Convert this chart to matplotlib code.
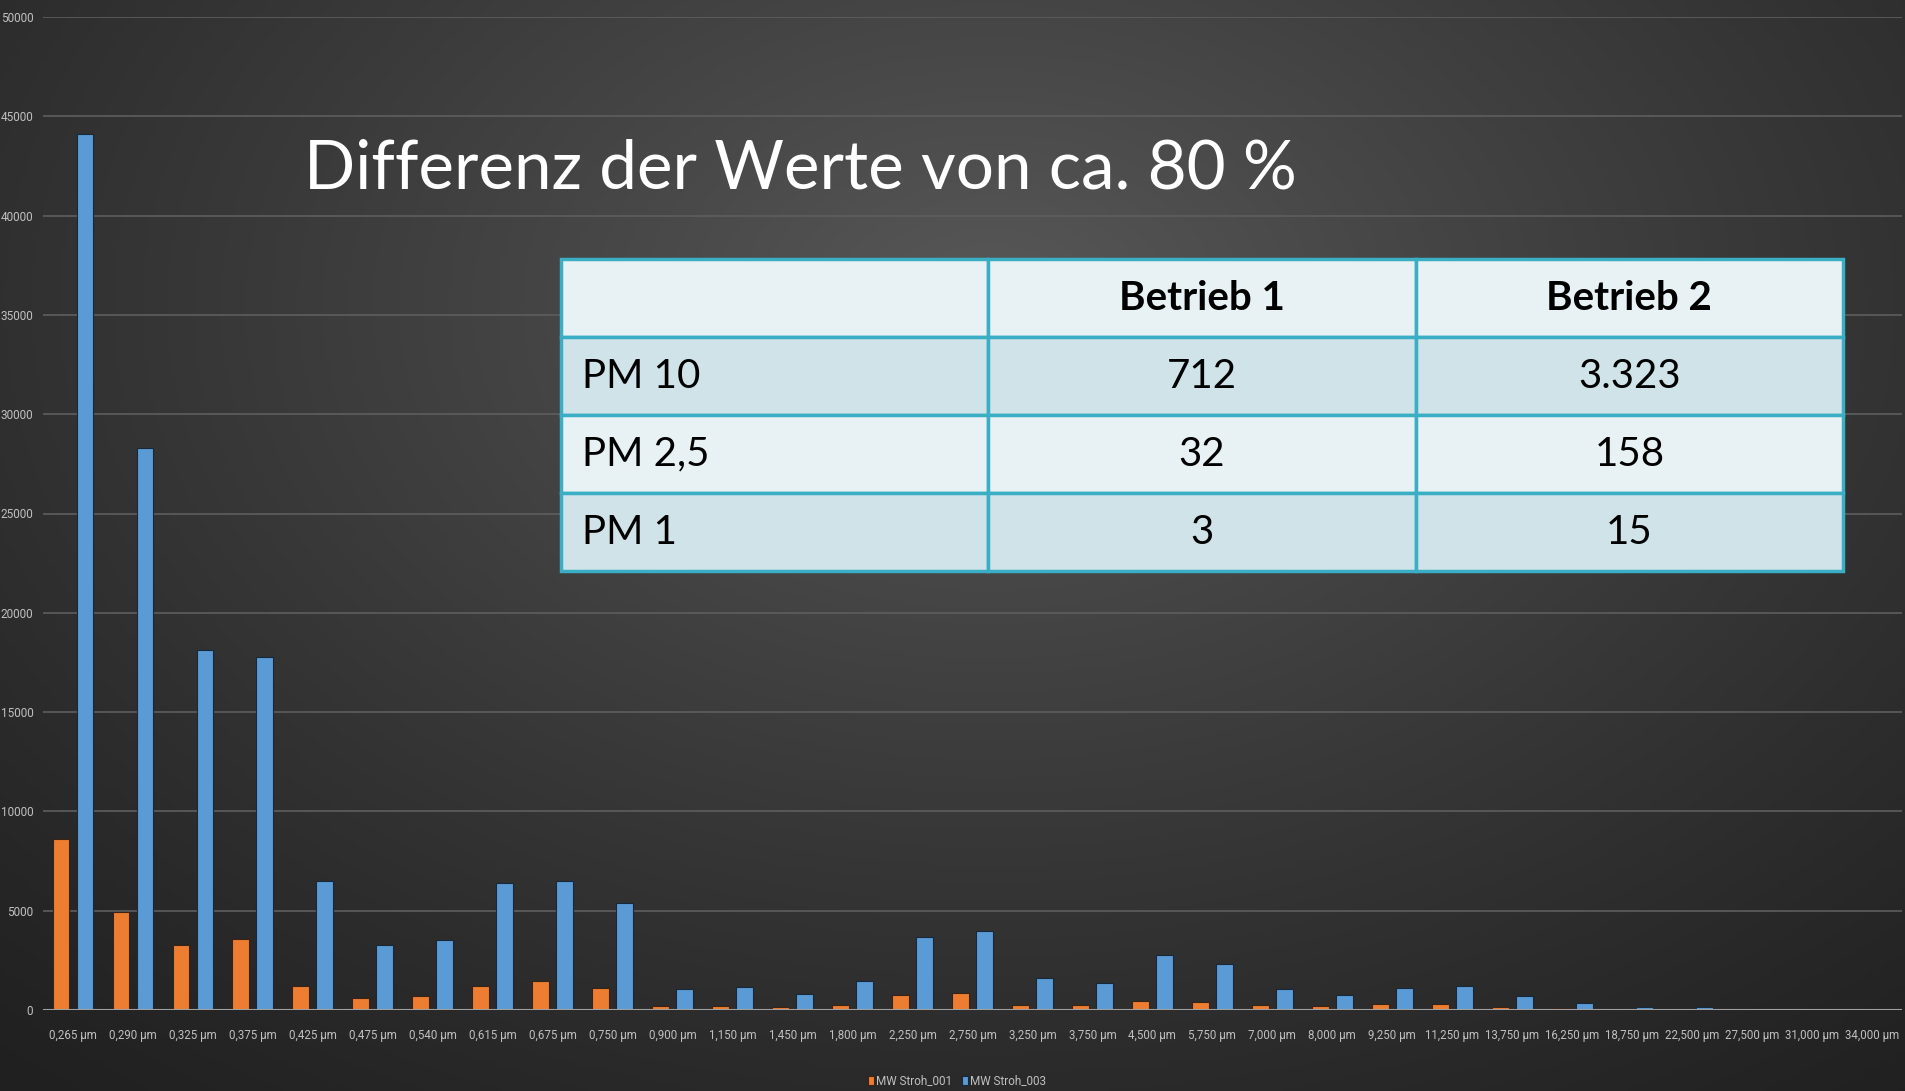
import numpy as np
import matplotlib
matplotlib.use("Agg")
import matplotlib.pyplot as plt

# Partikelgroessen (Kategorien der x-Achse)
groessen = ["0,265 µm", "0,290 µm", "0,325 µm", "0,375 µm", "0,425 µm", "0,475 µm",
            "0,540 µm", "0,615 µm", "0,675 µm", "0,750 µm", "0,900 µm", "1,150 µm",
            "1,450 µm", "1,800 µm", "2,250 µm", "2,750 µm", "3,250 µm", "3,750 µm",
            "4,500 µm", "5,750 µm", "7,000 µm", "8,000 µm", "9,250 µm", "11,250 µm",
            "13,750 µm", "16,250 µm", "18,750 µm", "22,500 µm", "27,500 µm",
            "31,000 µm", "34,000 µm"]

stroh_001 = [8600, 4950, 3250, 3550, 1200, 620, 680, 1230, 1450, 1100, 200, 200,
             150, 250, 750, 850, 250, 250, 450, 400, 250, 200, 300, 300,
             170, 100, 30, 30, 20, 15, 10]
stroh_003 = [44100, 28300, 18150, 17750, 6500, 3250, 3500, 6400, 6500, 5400, 1050, 1180,
             800, 1470, 3700, 4000, 1600, 1380, 2780, 2330, 1060, 750, 1100, 1200,
             700, 350, 150, 150, 30, 20, 15]
serien = ["MW Stroh_001", "MW Stroh_003"]

y_ticks = list(range(0, 50001, 5000))

# Tabelle
tab_kopf = ["", "Betrieb 1", "Betrieb 2"]
tab_zeilen = [["PM 10", "712", "3.323"],
              ["PM 2,5", "32", "158"],
              ["PM 1", "3", "15"]]

titel = "Differenz der Werte von ca. 80 %"

klein = ["Roboto", "DejaVu Sans"]

W, H = 1905, 1091
fig = plt.figure(figsize=(W / 100, H / 100), dpi=100)

# Hintergrund mit Verlauf
bg = fig.add_axes([0, 0, 1, 1], zorder=-5)
gy, gx = np.mgrid[0:1:300j, 0:1:520j]
d = np.sqrt(((gx - 0.52) / 0.8) ** 2 + ((gy - 0.28) / 0.95) ** 2)
g = np.clip(1 - d, 0, 1)
hell = (0x20 + (0x58 - 0x20) * g ** 1.2) / 255
bg.imshow(np.dstack([hell, hell, hell]), aspect="auto", extent=[0, 1, 0, 1], origin="upper")
bg.axis("off")

# Balkendiagramm
ax = fig.add_axes([43 / W, 1 - 1010 / H, (1902 - 43) / W, (1010 - 17) / H])
ax.set_facecolor("none")
x = np.arange(len(groessen))
b = 0.28
ax.bar(x - 0.2, stroh_001, b, color="#ed7d31", edgecolor="#3a2214", linewidth=0.8,
       label=serien[0], zorder=3)
ax.bar(x + 0.2, stroh_003, b, color="#5b9bd5", edgecolor="#17283a", linewidth=0.8,
       label=serien[1], zorder=3)

ax.set_xlim(-0.5, len(groessen) - 0.5)
ax.set_ylim(0, 50000)
ax.set_yticks(y_ticks)
ax.set_xticks(x)
ax.set_xticklabels(groessen)
ax.grid(axis="y", color="#5e5e5e", linewidth=1.2, zorder=0)
for s in ax.spines.values():
    s.set_visible(False)
ax.axhline(0, color="#a0a0a0", linewidth=1.5, zorder=4)
ax.tick_params(length=0, colors="#c0c0c0")
ax.tick_params(axis="y", pad=7)
ax.tick_params(axis="x", pad=14)
for t in ax.get_yticklabels():
    t.set_family(klein)
    t.set_fontsize(8.5)
for t in ax.get_xticklabels():
    t.set_family(klein)
    t.set_fontsize(8.3)

leg = fig.legend(loc="center", bbox_to_anchor=(957 / W, 1 - 1081 / H), ncol=2,
                 frameon=False, handlelength=0.5, handleheight=0.8,
                 handletextpad=0.2, columnspacing=0.8, labelcolor="#c0c0c0",
                 prop={"family": klein, "size": 8.5})

# Titel
fig.text(304 / W, 1 - 170 / H, titel, color="white", fontsize=48.5,
         family=["Lato", "DejaVu Sans"], va="center", ha="left")

# Tabelle
tax = fig.add_axes([561 / W, 1 - 571 / H, (1843 - 561) / W, (571 - 259) / H])
tax.axis("off")
tab = tax.table(cellText=[tab_kopf] + tab_zeilen, bbox=[0, 0, 1, 1], cellLoc="center")
tab.auto_set_font_size(False)
for (r, c), cell in tab.get_celld().items():
    cell.set_edgecolor("#3aaec4")
    cell.set_linewidth(2.5)
    cell.set_facecolor("#e8f1f4" if r % 2 == 0 else "#cfe3e8")
    txt = cell.get_text()
    txt.set_fontsize(29)
    txt.set_family(["Lato", "DejaVu Sans"])
    txt.set_color("black")
    if r == 0:
        txt.set_fontweight("bold")
    if c == 0:
        cell.PAD = 0.05
        cell._loc = "left"
        txt.set_horizontalalignment("left")

fig.savefig("out.png", dpi=100)
